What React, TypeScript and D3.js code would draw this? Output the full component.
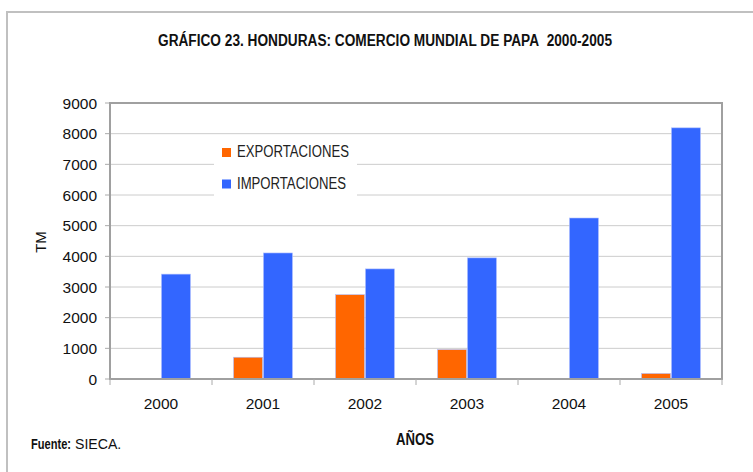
import React from "react";
import * as d3 from "d3";

const years = ["2000", "2001", "2002", "2003", "2004", "2005"];
const exportaciones = [0, 710, 2750, 960, 0, 180];
const importaciones = [3420, 4110, 3590, 3950, 5250, 8190];
const yTicks = [0, 1000, 2000, 3000, 4000, 5000, 6000, 7000, 8000, 9000];
const seriesNames = ["EXPORTACIONES", "IMPORTACIONES"];
const colors = ["#FF6600", "#3366FF"];
const titleText = "GRÁFICO 23. HONDURAS: COMERCIO MUNDIAL DE PAPA\u00a0\u00a02000-2005";

const W = 753, H = 472;
const L = 110, R = 722, T = 103, B = 379;
const sans = "'Liberation Sans', Arimo, Arial, sans-serif";

export default function App() {
  const x = d3.scaleBand<string>().domain(years).range([L, R]).padding(0);
  const xs = d3.scaleBand<string>().domain(seriesNames).range([0, x.bandwidth()]).paddingInner(0.03).paddingOuter(0.72);
  const y = d3.scaleLinear().domain([0, 9000]).range([B, T]);
  const data = [exportaciones, importaciones];

  return (
    <svg width={W} height={H} style={{ position: "absolute", left: 0, top: 0, background: "#fff" }}>
      <rect x={7} y={12} width={800} height={500} fill="#fff" stroke="#c0c0c0" strokeWidth={2} />
      <text x={158} y={46} textLength={454} lengthAdjust="spacingAndGlyphs" fontFamily={sans} fontWeight="bold" fontSize={16} fill="#111">
        {titleText}
      </text>
      {yTicks.map((t) => (
        <g key={t}>
          {t > 0 && t < 9000 && <line x1={L} x2={R} y1={y(t)} y2={y(t)} stroke="#cccccc" strokeWidth={1} />}
          <line x1={L - 5} x2={L} y1={y(t)} y2={y(t)} stroke="#aaaaaa" strokeWidth={1} />
          <text x={L - 13} y={y(t) + 5.5} textAnchor="end" fontFamily={sans} fontSize={15.5} fill="#111">{String(t)}</text>
        </g>
      ))}
      <rect x={L} y={T} width={R - L} height={B - T} fill="none" stroke="#a0a0a0" strokeWidth={2} />
      {years.map((yr, i) =>
        data.map((vals, s) =>
          vals[i] > 0 ? (
            <rect key={yr + s} x={(x(yr) as number) + (xs(seriesNames[s]) as number)} y={y(vals[i])}
              width={xs.bandwidth()} height={B - y(vals[i])} fill={colors[s]} stroke="#b0c0ff" strokeWidth={0.6} />
          ) : null
        )
      )}
      <line x1={L} x2={R} y1={B} y2={B} stroke="#a0a0a0" strokeWidth={2} />
      {years.concat(["end"]).map((yr, i) => {
        const px = L + i * x.bandwidth();
        return <line key={"t" + i} x1={px} x2={px} y1={B} y2={B + 6} stroke="#aaaaaa" strokeWidth={1} />;
      })}
      {years.map((yr) => (
        <text key={"l" + yr} x={(x(yr) as number) + x.bandwidth() / 2} y={408.5} textAnchor="middle" fontFamily={sans} fontSize={15.5} fill="#111">{yr}</text>
      ))}
      <rect x={214} y={137} width={143} height={60} fill="#fff" />
      {seriesNames.map((n, i) => (
        <g key={n}>
          <rect x={222} y={148 + i * 31.5} width={9} height={9} fill={colors[i]} />
          <text x={237} y={157 + i * 31.5} textLength={i === 0 ? 112 : 109} lengthAdjust="spacingAndGlyphs" fontFamily={sans} fontSize={16} fill="#222">{n}</text>
        </g>
      ))}
      <text transform={`translate(46,242) rotate(-90)`} textAnchor="middle" fontFamily={sans} fontSize={15} fill="#111">TM</text>
      <text x={396} y={445} textLength={38} lengthAdjust="spacingAndGlyphs" fontFamily={sans} fontWeight="bold" fontSize={16} fill="#111">AÑOS</text>
      <text transform="translate(31,449) scale(0.74,1)" fontFamily={sans} fontWeight="bold" fontSize={15} fill="#111">Fuente:</text>
      <text transform="translate(75,449) scale(0.94,1)" fontFamily={sans} fontSize={15} fill="#111">SIECA.</text>
    </svg>
  );
}
